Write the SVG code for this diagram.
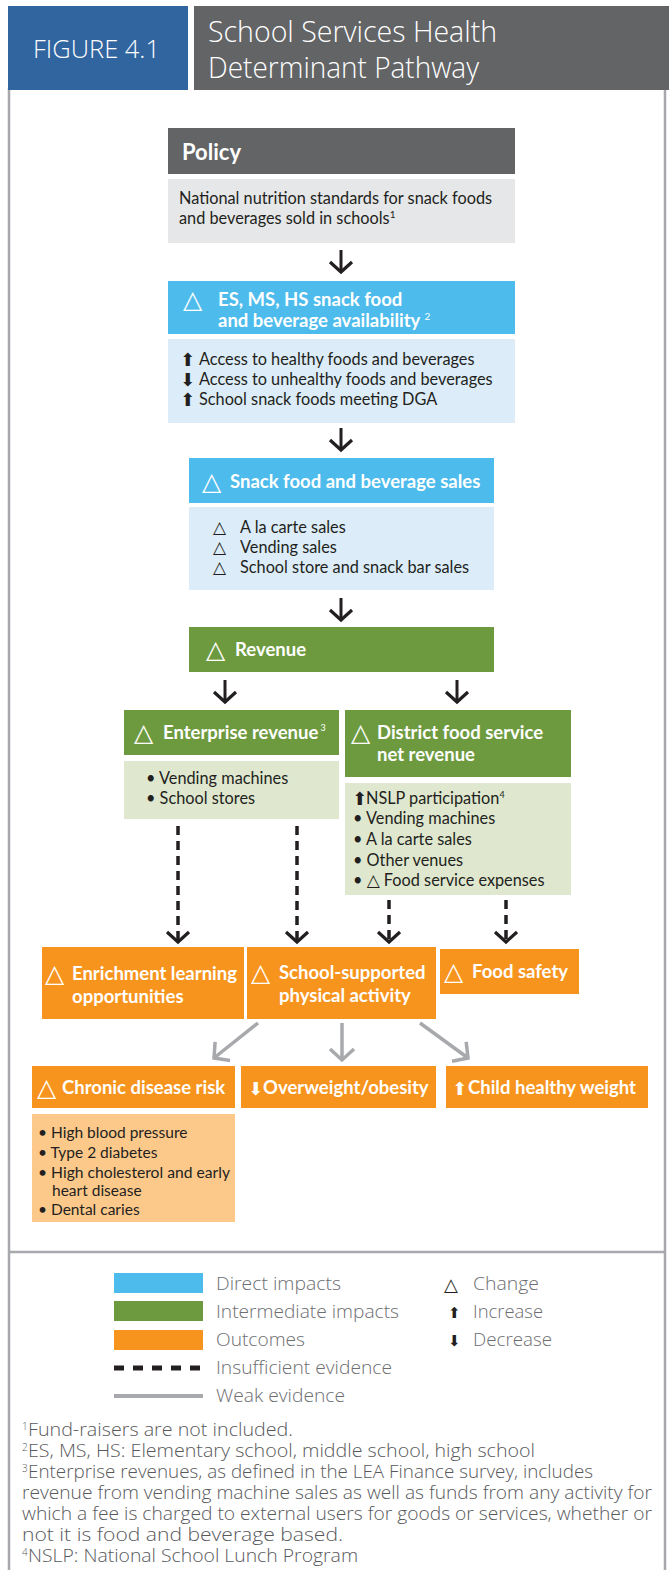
<svg xmlns="http://www.w3.org/2000/svg" width="669" height="1570" viewBox="0 0 669 1570">
<style>
.t{font-family:Lato,"Liberation Sans",sans-serif;}
.hw{fill:#fff;font-weight:bold;font-size:18.5px;}
.bd{fill:#231f20;font-size:16.3px;}
.bc{fill:#231f20;font-size:15.5px;}
.sym{font-family:"DejaVu Sans",sans-serif;}
.tw{fill:#fff;font-size:25px;}
.tb{fill:#231f20;font-size:17px;font-weight:bold;}
.ab{fill:#231f20;font-size:18px;}
.aw{fill:#fff;font-size:18px;}
.ow{font-family:"Open Sans",Lato,sans-serif;font-weight:300;}
.leg{fill:#6d6e71;font-size:18px;}
.fn{fill:#58595b;font-size:18px;}
.ar{stroke:#231f20;stroke-width:3;fill:none;}
.da{stroke:#231f20;stroke-width:3.5;fill:none;stroke-dasharray:9 6;}
.wk{stroke:#a7a9ac;stroke-width:3.5;fill:none;}
</style>
<defs>
<marker id="hb" markerUnits="userSpaceOnUse" viewBox="-12 -13 14 26" markerWidth="14" markerHeight="26" refX="0" refY="0" orient="auto" overflow="visible"><path d="M-10,-11 L0,0 L-10,11" fill="none" stroke="#231f20" stroke-width="3.2"/></marker>
<marker id="hg" markerUnits="userSpaceOnUse" viewBox="-12 -13 14 26" markerWidth="14" markerHeight="26" refX="0" refY="0" orient="auto" overflow="visible"><path d="M-11,-12 L0,0 L-11,12" fill="none" stroke="#a7a9ac" stroke-width="3.5"/></marker>
</defs>
<rect width="669" height="1570" fill="#fff"/>
<g id="frame" stroke="#a7a9ac" stroke-width="2.5" fill="none">
<line x1="9" y1="88" x2="9" y2="1570"/>
<line x1="665" y1="88" x2="665" y2="1570"/>
<line x1="9" y1="1252" x2="665" y2="1252"/>
</g>
<g id="header">
<rect x="8" y="6" width="180" height="84" fill="#31659f"/>
<text class="ow" x="33" y="58" fill="#fff" font-size="25" textLength="127" lengthAdjust="spacingAndGlyphs">FIGURE 4.1</text>
<rect x="194" y="6" width="475" height="84" fill="#636466"/>
<text class="ow" x="208" y="42" fill="#fff" font-size="29" textLength="289" lengthAdjust="spacingAndGlyphs">School Services Health</text>
<text class="ow" x="208" y="78" fill="#fff" font-size="29" textLength="271" lengthAdjust="spacingAndGlyphs">Determinant Pathway</text>
</g>
<g id="policy">
<rect x="168" y="128" width="347" height="46" fill="#636466"/>
<text class="t" x="182" y="160" fill="#fff" font-size="22" font-weight="bold">Policy</text>
<rect x="168" y="179" width="347" height="64" fill="#e6e7e8"/>
<text class="t bd" x="179" y="204">National nutrition standards for snack foods</text>
<text class="t bd" x="179" y="224">and beverages sold in schools<tspan font-size="10" dy="-6">1</tspan></text>
</g>
<g id="availability">
<rect x="168" y="281" width="347" height="53" fill="#4dbbeb"/>
<text class="sym tw" x="183" y="308">△</text>
<text class="t hw" x="218" y="306">ES, MS, HS snack food</text>
<text class="t hw" x="218" y="327">and beverage availability <tspan font-size="10" dy="-7" font-weight="normal">2</tspan></text>
<rect x="168" y="339" width="347" height="84" fill="#dcedf9"/>
<text class="sym ab" x="180" y="366">⬆</text>
<text class="t bd" x="199" y="365">Access to healthy foods and beverages</text>
<text class="sym ab" x="180" y="386">⬇</text>
<text class="t bd" x="199" y="385">Access to unhealthy foods and beverages</text>
<text class="sym ab" x="180" y="406">⬆</text>
<text class="t bd" x="199" y="405">School snack foods meeting DGA</text>
</g>
<g id="sales">
<rect x="189" y="458" width="305" height="45" fill="#4dbbeb"/>
<text class="sym tw" x="202" y="490">△</text>
<text class="t hw" x="230" y="488">Snack food and beverage sales</text>
<rect x="189" y="507" width="305" height="83" fill="#dcedf9"/>
<text class="sym tb" x="213" y="533">△</text>
<text class="t bd" x="240" y="533">A la carte sales</text>
<text class="sym tb" x="213" y="553">△</text>
<text class="t bd" x="240" y="553">Vending sales</text>
<text class="sym tb" x="213" y="573">△</text>
<text class="t bd" x="240" y="573">School store and snack bar sales</text>
</g>
<g id="revenue">
<rect x="189" y="627" width="305" height="45" fill="#6e9a3f"/>
<text class="sym tw" x="206" y="658">△</text>
<text class="t hw" x="235" y="656">Revenue</text>
</g>
<g id="enterprise">
<rect x="124" y="710" width="215" height="45" fill="#6e9a3f"/>
<text class="sym tw" x="134" y="741">△</text>
<text class="t hw" x="163" y="739">Enterprise revenue<tspan font-size="9" dy="-8" font-weight="normal"> 3</tspan></text>
<rect x="124" y="761" width="215" height="58" fill="#dfe8cf"/>
<text class="t bd" x="146" y="784">• Vending machines</text>
<text class="t bd" x="146" y="804">• School stores</text>
</g>
<g id="district">
<rect x="345" y="710" width="226" height="67" fill="#6e9a3f"/>
<text class="sym tw" x="351" y="741">△</text>
<text class="t hw" x="377" y="739">District food service</text>
<text class="t hw" x="377" y="761">net revenue</text>
<rect x="345" y="783" width="226" height="112" fill="#dfe8cf"/>
<text class="sym ab" x="352" y="805">⬆</text>
<text class="t bd" x="366" y="804">NSLP participation<tspan font-size="9" dy="-6">4</tspan></text>
<text class="t bd" x="353" y="824">• Vending machines</text>
<text class="t bd" x="353" y="845">• A la carte sales</text>
<text class="t bd" x="353" y="866">• Other venues</text>
<text class="t bd" x="353" y="886">• <tspan class="sym" font-size="17" font-weight="bold">△</tspan> Food service expenses</text>
</g>
<g id="enrichment">
<rect x="42" y="947" width="202" height="72" fill="#f7941d"/>
<text class="sym tw" x="45" y="982">△</text>
<text class="t hw" x="72" y="980">Enrichment learning</text>
<text class="t hw" x="72" y="1003">opportunities</text>
</g>
<g id="physical">
<rect x="247" y="947" width="189" height="72" fill="#f7941d"/>
<text class="sym tw" x="251" y="981">△</text>
<text class="t hw" x="279" y="979">School-supported</text>
<text class="t hw" x="279" y="1002">physical activity</text>
</g>
<g id="foodsafety">
<rect x="440" y="949" width="139" height="45" fill="#f7941d"/>
<text class="sym tw" x="444" y="980">△</text>
<text class="t hw" x="472" y="978">Food safety</text>
</g>
<g id="chronic">
<rect x="32" y="1066" width="203" height="42" fill="#f7941d"/>
<text class="sym tw" x="37" y="1096">△</text>
<text class="t hw" x="62" y="1094">Chronic disease risk</text>
<rect x="32" y="1114" width="203" height="108" fill="#fdc98b"/>
<text class="t bc" x="38" y="1138">• High blood pressure</text>
<text class="t bc" x="38" y="1158">• Type 2 diabetes</text>
<text class="t bc" x="38" y="1178" textLength="192" lengthAdjust="spacingAndGlyphs">• High cholesterol and early</text>
<text class="t bc" x="52" y="1196">heart disease</text>
<text class="t bc" x="38" y="1215">• Dental caries</text>
</g>
<g id="overweight">
<rect x="241" y="1066" width="195" height="42" fill="#f7941d"/>
<text class="sym aw" x="248" y="1095">⬇</text>
<text class="t hw" x="263" y="1094">Overweight/obesity</text>
</g>
<g id="healthyweight">
<rect x="446" y="1066" width="202" height="42" fill="#f7941d"/>
<text class="sym aw" x="452" y="1095">⬆</text>
<text class="t hw" x="468" y="1094">Child healthy weight</text>
</g>
<g id="connectors">
<line class="ar" x1="341" y1="250" x2="341" y2="272" marker-end="url(#hb)"/>
<line class="ar" x1="341" y1="428" x2="341" y2="450" marker-end="url(#hb)"/>
<line class="ar" x1="341" y1="598" x2="341" y2="620" marker-end="url(#hb)"/>
<line class="ar" x1="225" y1="680" x2="225" y2="702" marker-end="url(#hb)"/>
<line class="ar" x1="457" y1="680" x2="457" y2="702" marker-end="url(#hb)"/>
<line class="da" x1="178" y1="826" x2="178" y2="942" marker-end="url(#hb)"/>
<line class="da" x1="297" y1="826" x2="297" y2="942" marker-end="url(#hb)"/>
<line class="da" x1="389" y1="900" x2="389" y2="942" marker-end="url(#hb)"/>
<line class="da" x1="506" y1="900" x2="506" y2="942" marker-end="url(#hb)"/>
<line class="wk" x1="258" y1="1023" x2="214" y2="1058" marker-end="url(#hg)"/>
<line class="wk" x1="342" y1="1023" x2="342" y2="1060" marker-end="url(#hg)"/>
<line class="wk" x1="420" y1="1023" x2="468" y2="1058" marker-end="url(#hg)"/>
</g>
<g id="legend">
<rect x="114" y="1273" width="89" height="20" fill="#4dbbeb"/>
<rect x="114" y="1301" width="89" height="20" fill="#6e9a3f"/>
<rect x="114" y="1330" width="89" height="20" fill="#f7941d"/>
<line x1="114" y1="1368" x2="203" y2="1368" stroke="#231f20" stroke-width="5" stroke-dasharray="10 9"/>
<line x1="114" y1="1396" x2="203" y2="1396" stroke="#a7a9ac" stroke-width="4"/>
<text class="ow leg" x="216" y="1290" textLength="125" lengthAdjust="spacingAndGlyphs">Direct impacts</text>
<text class="ow leg" x="216" y="1318" textLength="183" lengthAdjust="spacingAndGlyphs">Intermediate impacts</text>
<text class="ow leg" x="216" y="1346" textLength="89" lengthAdjust="spacingAndGlyphs">Outcomes</text>
<text class="ow leg" x="216" y="1374" textLength="176" lengthAdjust="spacingAndGlyphs">Insufficient evidence</text>
<text class="ow leg" x="216" y="1402" textLength="129" lengthAdjust="spacingAndGlyphs">Weak evidence</text>
<text class="sym" x="444" y="1291" fill="#231f20" font-size="18" font-weight="bold">△</text>
<text class="sym" x="448" y="1318" fill="#231f20" font-size="15">⬆</text>
<text class="ow leg" x="473" y="1290" textLength="66" lengthAdjust="spacingAndGlyphs">Change</text>
<text class="ow leg" x="473" y="1318" textLength="70" lengthAdjust="spacingAndGlyphs">Increase</text>
<text class="sym" x="448" y="1346" fill="#231f20" font-size="15">⬇</text>
<text class="ow leg" x="473" y="1346" textLength="79" lengthAdjust="spacingAndGlyphs">Decrease</text>
</g>
<g id="footnotes">
<text class="ow fn" x="22" y="1436"><tspan font-size="10" dy="-6">1</tspan><tspan x="28" dy="6" textLength="265" lengthAdjust="spacingAndGlyphs">Fund-raisers are not included.</tspan></text>
<text class="ow fn" x="22" y="1457"><tspan font-size="10" dy="-6">2</tspan><tspan x="28" dy="6" textLength="507" lengthAdjust="spacingAndGlyphs">ES, MS, HS: Elementary school, middle school, high school</tspan></text>
<text class="ow fn" x="22" y="1478"><tspan font-size="10" dy="-6">3</tspan><tspan x="28" dy="6" textLength="565" lengthAdjust="spacingAndGlyphs">Enterprise revenues, as defined in the LEA Finance survey, includes</tspan></text>
<text class="ow fn" x="22" y="1499" textLength="630" lengthAdjust="spacingAndGlyphs">revenue from vending machine sales as well as funds from any activity for</text>
<text class="ow fn" x="22" y="1520" textLength="630" lengthAdjust="spacingAndGlyphs">which a fee is charged to external users for goods or services, whether or</text>
<text class="ow fn" x="22" y="1541" textLength="321" lengthAdjust="spacingAndGlyphs">not it is food and beverage based.</text>
<text class="ow fn" x="22" y="1562"><tspan font-size="10" dy="-6">4</tspan><tspan x="28" dy="6" textLength="330" lengthAdjust="spacingAndGlyphs">NSLP: National School Lunch Program</tspan></text>
</g>
</svg>
